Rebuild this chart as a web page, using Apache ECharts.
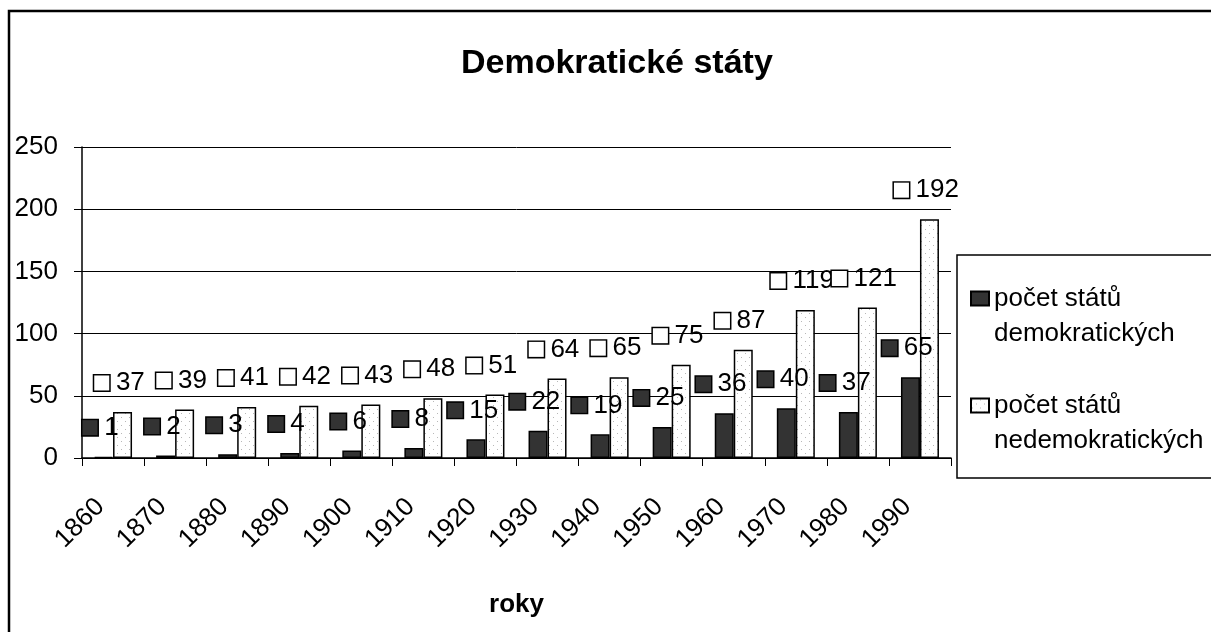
<!DOCTYPE html>
<html>
<head>
<meta charset="utf-8">
<title>Demokratické státy</title>
<script src="https://cdn.jsdelivr.net/npm/echarts@6/dist/echarts.min.js"></script>
<style>
  html, body { margin: 0; padding: 0; background: #fff; }
  #chart { width: 1211px; height: 632px; }
</style>
</head>
<body>
<div id="chart"></div>
<script>
// data
const years = ['1860', '1870', '1880', '1890', '1900', '1910', '1920', '1930', '1940', '1950', '1960', '1970', '1980', '1990']
const democratic = [1, 2, 3, 4, 6, 8, 15, 22, 19, 25, 36, 40, 37, 65]
const nonDemocratic = [37, 39, 41, 42, 43, 48, 51, 64, 65, 75, 87, 119, 121, 192]
const seriesNames = ['počet států demokratických', 'počet států nedemokratických']
const legendLines = {
  'počet států demokratických': ['počet států', 'demokratických'],
  'počet států nedemokratických': ['počet států', 'nedemokratických']
}

const FONT = '"Liberation Sans", Arial, sans-serif'

// tečkovaná výplň pro nedemokratické státy
const makeDots = () => {
  const c = document.createElement('canvas')
  c.width = 8
  c.height = 8
  const ctx = c.getContext('2d')
  ctx.fillStyle = '#fff'
  ctx.fillRect(0, 0, 8, 8)
  ctx.fillStyle = '#b8b8b8'
  ctx.fillRect(1, 1, 1, 1)
  ctx.fillRect(5, 5, 1, 1)
  return c
}
const dots = { image: makeDots(), repeat: 'repeat' }

const chart = echarts.init(document.getElementById('chart'))

const makeLabel = (keyColor) => ({
  show: true,
  position: 'top',
  distance: 16,
  offset: [-3, 0],
  formatter: p => '{k|}  {v|' + p.value + '}',
  rich: {
    k: {
      width: 15,
      height: 15,
      backgroundColor: keyColor,
      borderColor: '#000',
      borderWidth: 1.5
    },
    v: {
      fontSize: 26,
      fontFamily: FONT,
      color: '#000'
    }
  }
})

const option = {
  animation: false,
  backgroundColor: '#fff',
  title: {
    text: 'Demokratické státy',
    left: 456,
    top: 42,
    textStyle: {
      fontFamily: FONT,
      fontSize: 34,
      fontWeight: 'bold',
      color: '#000'
    }
  },
  legend: {
    orient: 'vertical',
    left: 970,
    top: 246,
    padding: 0,
    itemGap: 2,
    itemWidth: 18,
    itemHeight: 14,
    icon: 'rect',
    data: seriesNames,
    formatter: name => ' \n' + legendLines[name].join('\n'),
    textStyle: {
      fontFamily: FONT,
      fontSize: 26,
      lineHeight: 35,
      color: '#000'
    }
  },
  grid: {
    left: 82,
    right: 260,
    top: 147,
    bottom: 174
  },
  xAxis: {
    type: 'category',
    data: years,
    name: 'roky',
    nameLocation: 'middle',
    nameGap: 134,
    nameTextStyle: {
      fontFamily: FONT,
      fontSize: 26,
      fontWeight: 'bold',
      color: '#000'
    },
    axisLine: { lineStyle: { color: '#000', width: 1.5 } },
    axisTick: { show: true, length: 8, lineStyle: { color: '#000' } },
    axisLabel: {
      interval: 0,
      rotate: 45,
      margin: 32,
      padding: [0, 18, 0, 0],
      fontFamily: FONT,
      fontSize: 26,
      color: '#000'
    }
  },
  yAxis: {
    type: 'value',
    min: 0,
    max: 250,
    interval: 50,
    axisLine: { show: true, lineStyle: { color: '#000', width: 1.5 } },
    axisTick: { show: true, length: 8, lineStyle: { color: '#000' } },
    axisLabel: {
      margin: 24,
      fontFamily: FONT,
      fontSize: 26,
      color: '#000'
    },
    splitLine: { lineStyle: { color: '#000', width: 1 } }
  },
  series: [
    {
      name: seriesNames[0],
      type: 'bar',
      data: democratic,
      barWidth: 19,
      barGap: 0,
      itemStyle: { color: '#333333', borderColor: '#000', borderWidth: 1.5 },
      label: makeLabel('#333333')
    },
    {
      name: seriesNames[1],
      type: 'bar',
      data: nonDemocratic,
      barWidth: 19,
      barGap: 0,
      itemStyle: { color: dots, borderColor: '#000', borderWidth: 1.5 },
      label: makeLabel('#fff')
    }
  ],
  graphic: [
    {
      type: 'rect',
      silent: true,
      shape: { x: 9, y: 11, width: 1300, height: 700 },
      style: { fill: 'none', stroke: '#000', lineWidth: 2.5 }
    },
    {
      type: 'rect',
      silent: true,
      shape: { x: 957, y: 255, width: 300, height: 223 },
      style: { fill: 'none', stroke: '#000', lineWidth: 1.5 }
    }
  ]
}

chart.setOption(option)
</script>
</body>
</html>
